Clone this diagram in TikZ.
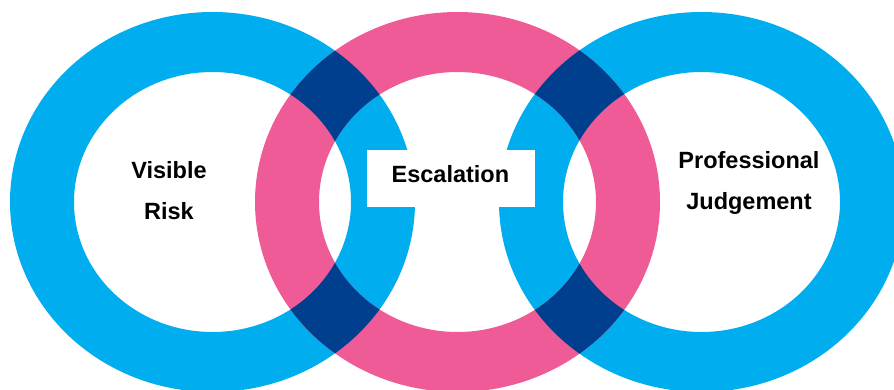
\documentclass[tikz,border=0pt]{standalone}
\usepackage{fontspec}
\setmainfont{Liberation Sans}
\definecolor{ringblue}{HTML}{00AEEF}
\definecolor{ringpink}{HTML}{EE5B97}
\definecolor{ringdark}{HTML}{003F8E}
\newcommand\ringfill[2]{\fill[#2, even odd rule] (#1,202) ellipse [x radius=202.5pt, y radius=190pt] (#1,202) ellipse [x radius=138.5pt, y radius=130pt];}
\newcommand\ringclip[1]{\clip (#1,202) ellipse [x radius=202.5pt, y radius=190pt] (#1,202) ellipse [x radius=138.5pt, y radius=130pt];}
\begin{document}
\begin{tikzpicture}[x=1pt,y=-1pt,
  lbl/.style={font=\fontsize{23.5}{41}\selectfont\bfseries, align=center, text=black, inner sep=0pt}]
\clip (0,0) rectangle (894,389);
\fill[white] (0,0) rectangle (894,389);
% rings
\ringfill{212.5}{ringblue}
\ringfill{701.5}{ringblue}
\ringfill{457.5}{ringpink}
% overlaps
\begin{scope}[even odd rule]
  \ringclip{212.5}
  \ringfill{457.5}{ringdark}
\end{scope}
\begin{scope}[even odd rule]
  \ringclip{701.5}
  \ringfill{457.5}{ringdark}
\end{scope}
% labels
\node (escbox) [fill=white, minimum width=168pt, minimum height=57pt, inner sep=0pt] at (450.9,178.3) {};
\node (esc) [lbl] at (450.4,174) {Escalation};
\node (vis) [lbl] at (169,191) {Visible\\Risk};
\node (prof) [lbl] at (749,182.5) {Professional\\Judgement};
\end{tikzpicture}
\end{document}
